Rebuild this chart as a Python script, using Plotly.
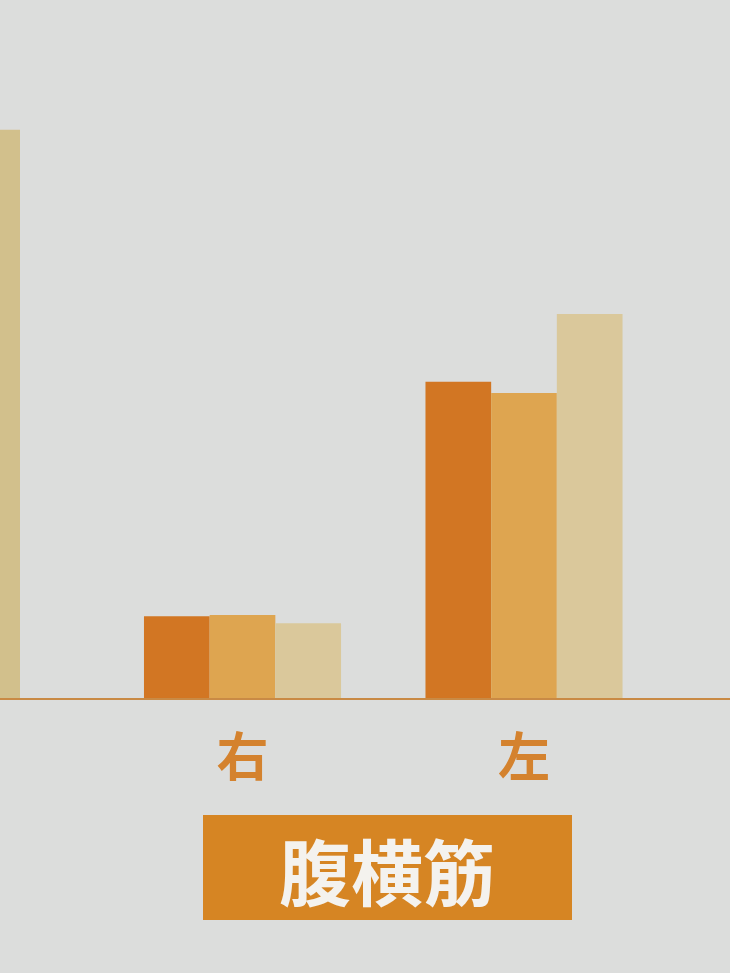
import plotly.graph_objects as go

# Data (arbitrary units, baseline = 0)
categories = ["右", "左"]
series_names = ["系列1", "系列2", "系列3"]
series1 = [11.7, 45.3]
series2 = [11.9, 43.7]
series3 = [10.7, 55.0]
prev_category = ["左"]
prev_series3 = [81.4]
panel_title = "腹横筋"

colors = ["#D27623", "#DEA550", "#DAC89B"]
prev_color = "#D2C08C"
bg = "#DCDDDC"
label_color = "#D4822E"
box_color = "#D68523"

fig = go.Figure()
for name, vals, c in zip(series_names, [series1, series2, series3], colors):
    fig.add_trace(go.Bar(x=categories, y=vals, name=name, marker=dict(color=c, line=dict(width=0)),
                         xaxis="x", yaxis="y", showlegend=False))

# partial bar from the neighbouring panel on the left
fig.add_trace(go.Bar(x=prev_category, y=prev_series3, marker=dict(color=prev_color, line=dict(width=0)),
                     xaxis="x2", yaxis="y", showlegend=False))

W, H = 730, 973
px_per_cat = 281.5
right_center = 242.5
x_range = [-right_center / px_per_cat, (W - right_center) / px_per_cat]
prev_range = [0.35 - 20 / px_per_cat, 0.35 - 20 / px_per_cat + W / px_per_cat]

fig.update_layout(
    width=W, height=H,
    margin=dict(l=0, r=0, t=0, b=0),
    paper_bgcolor=bg, plot_bgcolor=bg,
    barmode="group", bargap=0.30, bargroupgap=0.0,
    font=dict(family="Noto Sans CJK JP"),
    xaxis=dict(domain=[0, 1], range=x_range, type="category", anchor="y",
               showline=True, linecolor="#C98A45", linewidth=1.5,
               showgrid=False, zeroline=False, ticks="",
               tickfont=dict(size=52, color=label_color, family="Noto Sans CJK JP", weight="bold"),
               ticklabelstandoff=14),
    xaxis2=dict(domain=[0, 1], range=prev_range, type="category", overlaying="x",
                visible=False, anchor="y"),
    yaxis=dict(domain=[(H - 698) / H, 1], range=[0, 100], visible=False,
               showgrid=False, zeroline=False),
    shapes=[dict(type="rect", xref="paper", yref="paper",
                 x0=203 / W, x1=572 / W, y0=1 - 920 / H, y1=1 - 815 / H,
                 fillcolor=box_color, line=dict(width=0), layer="above")],
    annotations=[dict(text="<b>" + panel_title + "</b>", xref="paper", yref="paper",
                      x=387 / W, y=1 - 868 / H, xanchor="center", yanchor="middle",
                      showarrow=False,
                      font=dict(size=72, color="#F4F2EE", family="Noto Sans CJK JP"))],
)
fig.write_html("out.html", config={"displayModeBar": False},
               post_script="document.body.style.margin='0';")
